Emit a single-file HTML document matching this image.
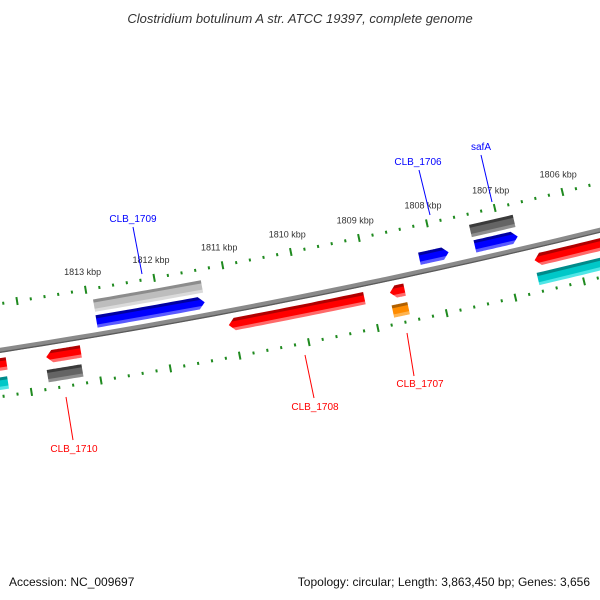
<!DOCTYPE html>
<html><head><meta charset="utf-8"><style>
html,body{margin:0;padding:0;background:#fff;}
svg{display:block;font-family:"Liberation Sans",sans-serif;}
</style></head><body>
<svg id="map" width="600" height="600" viewBox="0 0 600 600" xmlns="http://www.w3.org/2000/svg">
<defs id="defs"></defs>
<rect width="600" height="600" fill="#fff"/>
<text x="300" y="23" text-anchor="middle" font-size="13" font-style="italic" fill="#333">Clostridium botulinum A str. ATCC 19397, complete genome</text>
<g id="ticks"></g>
<g id="backbone"></g>
<g id="features"></g>
<g id="labels"></g>
<text x="9" y="586" font-size="12" fill="#111">Accession: NC_009697</text>
<text x="590" y="586" font-size="12" text-anchor="end" fill="#111">Topology: circular; Length: 3,863,450 bp; Genes: 3,656</text>
</svg>
<script>
// feature data (bp)
const featNames = ["CLB_1709-gray","CLB_1709","CLB_1708","CLB_1707","CLB_1707-orange","CLB_1706","safA-gray","safA","CLB_1705","CLB_1705-cyan","CLB_1710","CLB_1710-gray","left-red","left-cyan"];
const featStart = [1812919,1812921,1811071,1808729,1808743,1808214,1807414,1807400,1806614,1806628,1813714,1813736,1815200,1815200];
const featEnd   = [1811347,1811350,1809100,1808514,1808514,1807786,1806771,1806771,1804500,1804500,1813214,1813236,1814285,1814307];
const featStrand= [0,1,-1,-1,0,1,0,1,-1,0,-1,0,0,0];
const featLane  = [2,1,-1,-1,-2,1,2,1,-1,-2,-1,-2,-1,-2];
const featColor = ["lgray","blue","red","red","orange","blue","dgray","blue","red","cyan","red","dgray","red","cyan"];
const tickMajor = [1804000,1805000,1806000,1807000,1808000,1809000,1810000,1811000,1812000,1813000,1814000,1815000,1816000];
const tickLabels= ["1804 kbp","1805 kbp","1806 kbp","1807 kbp","1808 kbp","1809 kbp","1810 kbp","1811 kbp","1812 kbp","1813 kbp","1814 kbp","1815 kbp","1816 kbp"];

const NS="http://www.w3.org/2000/svg";
const CX=-1073, CY=-6567, R=7000, A0=78.69*Math.PI/180, K=1e-5, BP0=1810000;
const laneD={"2":29,"1":13,"-1":-14,"-2":-33};
const pal={red:["#b00000","#ff0000","#ff6a6a"],blue:["#0000a0","#0000ff","#5a5aff"],lgray:["#8c8c8c","#bdbdbd","#dadada"],dgray:["#3a3a3a","#646464","#8e8e8e"],cyan:["#008a8a","#00c8c8","#50e6e6"],orange:["#b06000","#ff8c00","#ffb450"]};
function ang(bp){return A0+(bp-BP0)*K;}
function pt(bp,d){const a=ang(bp),r=R-d;return [CX+r*Math.cos(a),CY+r*Math.sin(a)];}
function mk(tag,attrs,parent){const e=document.createElementNS(NS,tag);for(const k in attrs)e.setAttribute(k,attrs[k]);parent.appendChild(e);return e;}
const gT=document.getElementById('ticks'),gB=document.getElementById('backbone'),gF=document.getElementById('features'),defs=document.getElementById('defs');

let bb="";for(let b=1816000;b>=1803000;b-=250){const p=pt(b,0);bb+=(bb?"L":"M")+p[0].toFixed(1)+","+p[1].toFixed(1);}
let e=mk('path',{d:bb,stroke:"#8a8a8a","stroke-width":5,fill:"none"},gB);


let bb2="";for(let b=1816000;b>=1803000;b-=250){const p=pt(b,-2);bb2+=(bb2?"L":"M")+p[0].toFixed(1)+","+p[1].toFixed(1);}
e=mk('path',{d:bb2,stroke:"#5a5a5a","stroke-width":1.3,fill:"none"},gB);



[46,-46].forEach((d,ri)=>{
  for(let b=1803000;b<=1817000;b+=200){
    const major=(b%1000===0);const len=major?8:3;
    const p1=pt(b,d-len/2),p2=pt(b,d+len/2);
    const t=mk('line',{x1:p1[0],y1:p1[1],x2:p2[0],y2:p2[1],stroke:"#1f8a1f","stroke-width":2},gT);
    
    
  }
});
tickMajor.forEach((b,i)=>{
  const p=pt(b,64);
  if(p[0]<30||p[0]>590) return;
  const t=mk('text',{x:p[0].toFixed(1),y:(p[1]+3).toFixed(1),"text-anchor":"middle","font-size":"9",fill:"#333"},gT);
  t.textContent=tickLabels[i];
  
  
});

featNames.forEach((n,i)=>{
  const d=laneD[featLane[i]],h=12.5,top=d+h/2,bot=d-h/2;
  const s=featStart[i],en=featEnd[i],st=featStrand[i];
  const head=6/(R*K);
  let left=s,right=en;
  const pts=[];
  const bodyL = st===-1? left-head : left;
  const bodyR = st===1? right+head : right;
  const N=20;
  if(st===-1) pts.push(pt(left,d));
  for(let k=0;k<=N;k++){const b=bodyL+(bodyR-bodyL)*k/N;pts.push(pt(b,top));}
  if(st===1) pts.push(pt(right,d));
  for(let k=N;k>=0;k--){const b=bodyL+(bodyR-bodyL)*k/N;pts.push(pt(b,bot));}
  const mid=(s+en)/2,g1=pt(mid,top),g2=pt(mid,bot);
  const gid="g"+i,c=pal[featColor[i]];
  const gr=mk('linearGradient',{id:gid,gradientUnits:"userSpaceOnUse",x1:g1[0],y1:g1[1],x2:g2[0],y2:g2[1]},defs);
  [[0,c[0]],[0.22,c[0]],[0.26,c[1]],[0.72,c[1]],[0.76,c[2]],[1,c[2]]].forEach(q=>mk('stop',{offset:q[0],"stop-color":q[1]},gr));
  const poly=mk('polygon',{points:pts.map(p=>p[0].toFixed(1)+","+p[1].toFixed(1)).join(" "),fill:"url(#"+gid+")"},gF);
  
  
});

const gL=document.getElementById('labels');
const labs=[["CLB_1709",133,222,"#0000ff",133,227,142,274],["CLB_1706",418,165,"#0000ff",419,170,430,215],["safA",481,150,"#0000ff",481,155,492,202],["CLB_1708",315,410,"#ff0000",305,355,314,398],["CLB_1707",420,387,"#ff0000",407,333,414,376],["CLB_1710",74,452,"#ff0000",66,397,73,440]];
labs.forEach(l=>{
  const ln=mk('line',{x1:l[4],y1:l[5],x2:l[6],y2:l[7],stroke:l[3],"stroke-width":1},gL);
  
  
  const t=mk('text',{x:l[1],y:l[2],"text-anchor":"middle","font-size":"10",fill:l[3]},gL);
  t.textContent=l[0];
  
  
});
</script>
</body></html>
